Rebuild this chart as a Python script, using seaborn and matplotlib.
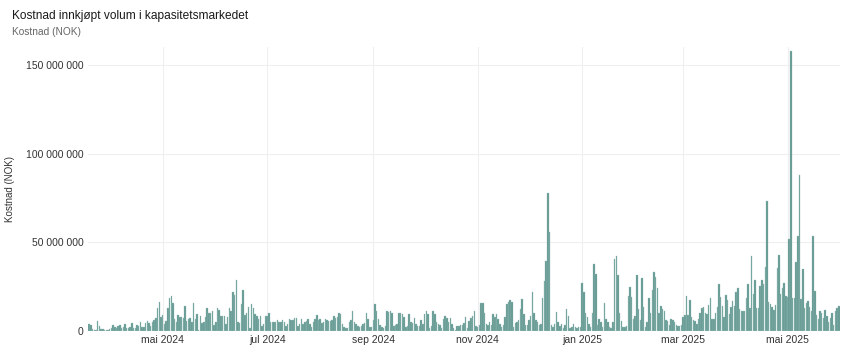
import numpy as np
import pandas as pd
import matplotlib
matplotlib.use("Agg")
import matplotlib.pyplot as plt
import matplotlib.dates as mdates
import seaborn as sns
from matplotlib.ticker import FuncFormatter

# daglig kostnad, millioner NOK
start_dato = "2024-03-19"
mar_2024 = [3.9, 3.4, 0.9, 0.7, 0.7, 5.8, 2.8, 1.2, 0.9, 0.8, 0.6, 0.4, 1.1]
apr_2024 = [1.9, 3.4, 2.4, 1.5, 3.0, 3.4, 1.9, 2.4, 3.8, 1.5, 1.9, 2.4, 4.7, 1.5, 1.9,
            3.4, 2.8, 5.3, 2.4, 2.3, 4.5, 5.6, 4.3, 3.0, 4.9, 6.2, 7.1, 13.2, 16.2, 8.1]
mai_2024 = [9.0, 3.8, 5.6, 12.8, 18.4, 19.9, 15.6, 6.8, 4.9, 9.0, 8.1, 8.1, 7.1, 14.1, 5.6,
            6.8, 7.1, 5.3, 15.6, 6.8, 9.6, 0.8, 8.5, 4.3, 4.9, 8.0, 12.8, 10.3, 10.3, 11.5, 3.4]
jun_2024 = [4.9, 13.2, 11.8, 8.6, 8.6, 8.5, 3.8, 7.9, 12.8, 11.5, 22.0, 20.3, 28.8, 4.9, 4.3,
            15.0, 23.0, 9.0, 10.0, 13.7, 1.5, 15.0, 12.8, 9.4, 8.5, 6.8, 8.5, 2.8, 3.8, 8.5]
jul_2024 = [8.5, 10.3, 5.0, 5.0, 5.0, 4.9, 6.0, 4.9, 4.9, 6.0, 5.3, 3.0, 3.9, 6.8, 6.2,
            6.2, 7.5, 7.1, 2.8, 3.9, 6.8, 4.0, 5.0, 5.5, 6.8, 4.0, 2.0, 5.0, 6.5, 9.0, 6.0]
aug_2024 = [6.5, 4.5, 5.0, 6.5, 6.0, 5.5, 5.5, 6.0, 8.5, 7.5, 8.0, 10.0, 9.5, 4.0, 2.5,
            1.5, 1.8, 5.0, 6.0, 11.3, 5.0, 4.0, 3.0, 2.0, 3.0, 4.0, 4.5, 10.0, 6.5, 2.5, 2.0]
sep_2024 = [6.0, 15.0, 11.3, 7.0, 3.5, 2.0, 1.5, 3.0, 11.5, 10.5, 11.5, 10.0, 3.0, 3.5, 4.0,
            10.0, 10.0, 9.5, 8.0, 2.5, 3.0, 9.4, 5.3, 4.3, 7.5, 3.8, 3.0, 3.0, 6.2, 3.8]
okt_2024 = [9.4, 11.3, 9.8, 1.5, 3.0, 11.3, 9.4, 4.9, 4.1, 3.4, 1.9, 6.8, 8.3, 7.5, 5.3,
            7.1, 3.8, 1.5, 0.6, 3.0, 2.6, 3.4, 3.4, 4.5, 7.7, 1.5, 5.6, 7.1, 8.6, 11.3, 3.0]
nov_2024 = [2.4, 3.4, 15.6, 15.6, 10.0, 4.1, 3.4, 4.9, 3.4, 9.4, 8.1, 9.4, 6.8, 4.1, 2.4,
            3.4, 8.1, 15.0, 16.5, 17.5, 16.5, 2.4, 4.3, 4.9, 6.2, 12.4, 17.9, 9.4, 3.4, 3.4]
des_2024 = [6.2, 8.5, 22.0, 10.0, 6.2, 4.9, 3.4, 3.8, 18.4, 28.0, 39.5, 77.6, 55.5, 3.4, 2.0,
            3.8, 10.5, 5.3, 2.8, 3.8, 1.9, 3.4, 12.4, 8.6, 1.9, 2.4, 3.8, 2.4, 1.9, 2.4, 2.4]
jan_2025 = [27.0, 22.0, 10.0, 8.0, 3.8, 2.4, 10.0, 37.6, 32.0, 3.4, 7.0, 5.3, 2.4, 16.0, 7.0,
            5.3, 2.4, 1.9, 4.9, 40.6, 42.5, 31.6, 10.0, 5.6, 2.4, 2.0, 3.0, 20.0, 25.0, 19.4, 7.0]
feb_2025 = [8.5, 31.6, 12.2, 6.2, 30.0, 13.7, 2.4, 5.3, 18.4, 10.0, 23.0, 33.0, 30.5, 24.0,
            10.0, 14.3, 12.2, 11.3, 6.2, 5.6, 3.4, 6.8, 6.2, 5.3, 3.4, 3.0, 3.0, 3.4]
mar_2025 = [8.0, 9.0, 20.0, 9.0, 17.5, 8.0, 6.2, 5.6, 3.8, 7.0, 10.0, 12.8, 13.7, 10.0, 9.4,
            14.7, 18.4, 7.0, 7.0, 10.0, 13.7, 26.3, 19.4, 14.3, 8.0, 20.3, 17.5, 9.4, 13.7, 17.0, 14.0]
apr_2025 = [21.8, 24.4, 12.2, 11.3, 11.3, 11.5, 18.4, 26.3, 12.8, 42.5, 20.7, 29.0, 13.2, 13.2,
            25.4, 29.0, 26.3, 36.3, 73.3, 16.5, 15.0, 13.7, 11.8, 14.7, 35.7, 42.9, 20.7, 24.4, 26.9, 20.0]
mai_2025 = [19.4, 51.9, 157.5, 18.8, 18.4, 39.0, 53.8, 88.0, 18.0, 35.0, 12.8, 15.6, 17.0, 13.7,
            11.0, 53.8, 22.6, 9.0, 6.6, 11.0, 10.0, 7.5, 11.8, 8.6, 5.3, 7.5, 10.0, 3.4, 11.0, 12.8, 14.0]

tick_datoer = ["2024-05-01", "2024-07-01", "2024-09-01", "2024-11-01",
               "2025-01-01", "2025-03-01", "2025-05-01"]
tick_tekster = ["mai 2024", "jul 2024", "sep 2024", "nov 2024",
                "jan 2025", "mar 2025", "mai 2025"]
y_ticks = [0, 50_000_000, 100_000_000, 150_000_000]

verdier = np.concatenate([mar_2024, apr_2024, mai_2024, jun_2024, jul_2024, aug_2024,
                          sep_2024, okt_2024, nov_2024, des_2024, jan_2025, feb_2025,
                          mar_2025, apr_2025, mai_2025]) * 1e6
datoer = pd.date_range(start_dato, periods=len(verdier), freq="D")
df = pd.DataFrame({"dato": mdates.date2num(datoer), "kostnad": verdier})

sns.set_theme(style="whitegrid")
plt.rcParams['font.family'] = ['Liberation Sans', 'DejaVu Sans']

fig = plt.figure(figsize=(8.52, 3.59), dpi=100)
ax = fig.add_axes([0.103, 0.078, 0.883, 0.791])

sns.histplot(data=df, x="dato", weights="kostnad", discrete=True, shrink=0.85,
             color="#629791", alpha=1, edgecolor="#9cc0bb", linewidth=0.25, ax=ax)

ax.set_xlim(mdates.date2num(pd.Timestamp("2024-03-18 05:00")),
            mdates.date2num(pd.Timestamp("2025-05-31 17:00")))
ax.set_ylim(0, 160e6)
ax.set_xticks(mdates.date2num(pd.to_datetime(tick_datoer)))
ax.set_xticklabels(tick_tekster)
ax.set_yticks(y_ticks)
ax.yaxis.set_major_formatter(FuncFormatter(lambda v, p: f"{int(v):,}".replace(",", " ")))

ax.grid(True, color="#efefef", linewidth=0.8)
ax.set_axisbelow(True)
for s in ax.spines.values():
    s.set_visible(False)
ax.tick_params(axis="both", length=0, labelsize=7.5, colors="#333333", pad=3)
ax.set_xlabel("")
ax.set_ylabel("Kostnad (NOK)", fontsize=7, color="#333333")
ax.yaxis.set_label_coords(-0.097, 0.5)

fig.text(0.014, 0.955, "Kostnad innkjøpt volum i kapasitetsmarkedet", fontsize=8.6,
         color="#1a1a1a", va="center", ha="left")
fig.text(0.014, 0.912, "Kostnad (NOK)", fontsize=7.3, color="#666666", va="center", ha="left")

fig.savefig("out.png", dpi=100)
